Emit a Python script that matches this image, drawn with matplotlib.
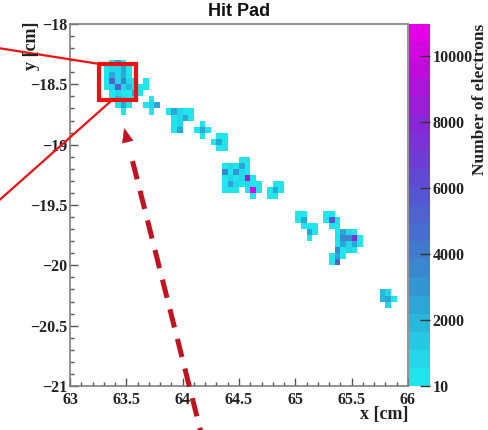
import numpy as np
import matplotlib
matplotlib.use("Agg")
import matplotlib.pyplot as plt
from matplotlib.colors import LinearSegmentedColormap, BoundaryNorm
from matplotlib.ticker import MultipleLocator
from matplotlib.patches import Rectangle, FancyArrowPatch

plt.rcParams['lines.scale_dashes'] = False

# ---------------- data: hit pads (pad centre in cm, number of electrons) -------------
hit_x = [
    # cluster near (63.45, -18.5)
    63.375, 63.425, 63.475,
    63.325, 63.375, 63.425, 63.475, 63.525,
    63.325, 63.375, 63.425, 63.475, 63.525,
    63.325, 63.375, 63.425, 63.475, 63.525, 63.575, 63.675,
    63.325, 63.375, 63.425, 63.475, 63.525, 63.575, 63.625, 63.675,
    63.375, 63.425, 63.475, 63.525, 63.575, 63.625,
    63.375, 63.425, 63.475, 63.525, 63.575, 63.725,
    63.425, 63.475, 63.525, 63.675, 63.725, 63.775,
    63.475, 63.725, 63.875, 63.925, 63.975, 64.025, 64.075,
    63.925, 63.975, 64.025, 64.075,
    63.925, 63.975, 64.175,
    63.925, 63.975, 64.125, 64.175, 64.225,
    64.175, 64.325, 64.375,
    64.275, 64.325, 64.375,
    64.325, 64.375,
    # cluster near (64.5, -19.3)
    64.525, 64.575,
    64.375, 64.425, 64.475, 64.525, 64.575,
    64.375, 64.425, 64.475, 64.525, 64.575,
    64.375, 64.425, 64.475, 64.525, 64.575, 64.625,
    64.375, 64.425, 64.475, 64.525, 64.575, 64.625, 64.675,
    64.375, 64.425, 64.475, 64.575, 64.625, 64.675,
    64.625,
    # cluster near (64.83, -19.38)
    64.825, 64.875,
    64.775, 64.825, 64.875,
    64.775, 64.825,
    # cluster near (65.1, -19.68)
    65.025, 65.075,
    65.025, 65.075,
    65.075, 65.125, 65.175,
    65.125, 65.175,
    65.125,
    # cluster near (65.45, -19.8)
    65.275, 65.325,
    65.275, 65.325, 65.375,
    65.325, 65.375,
    65.375, 65.425, 65.475, 65.525,
    65.375, 65.425, 65.475, 65.525, 65.575,
    65.375, 65.425, 65.475, 65.525, 65.575,
    65.375, 65.425, 65.475, 65.525,
    65.325, 65.375, 65.425,
    65.325, 65.375,
    # cluster near (65.82, -20.28)
    65.775, 65.825,
    65.775, 65.825, 65.875,
    65.825,
]
hit_y = [
    -18.325, -18.325, -18.325,
    -18.375, -18.375, -18.375, -18.375, -18.375,
    -18.425, -18.425, -18.425, -18.425, -18.425,
    -18.475, -18.475, -18.475, -18.475, -18.475, -18.475, -18.475,
    -18.525, -18.525, -18.525, -18.525, -18.525, -18.525, -18.525, -18.525,
    -18.575, -18.575, -18.575, -18.575, -18.575, -18.575,
    -18.625, -18.625, -18.625, -18.625, -18.625, -18.625,
    -18.675, -18.675, -18.675, -18.675, -18.675, -18.675,
    -18.725, -18.725, -18.725, -18.725, -18.725, -18.725, -18.725,
    -18.775, -18.775, -18.775, -18.775,
    -18.825, -18.825, -18.825,
    -18.875, -18.875, -18.875, -18.875, -18.875,
    -18.925, -18.925, -18.925,
    -18.975, -18.975, -18.975,
    -19.025, -19.025,
    -19.125, -19.125,
    -19.175, -19.175, -19.175, -19.175, -19.175,
    -19.225, -19.225, -19.225, -19.225, -19.225,
    -19.275, -19.275, -19.275, -19.275, -19.275, -19.275,
    -19.325, -19.325, -19.325, -19.325, -19.325, -19.325, -19.325,
    -19.375, -19.375, -19.375, -19.375, -19.375, -19.375,
    -19.425,
    -19.325, -19.325,
    -19.375, -19.375, -19.375,
    -19.425, -19.425,
    -19.575, -19.575,
    -19.625, -19.625,
    -19.675, -19.675, -19.675,
    -19.725, -19.725,
    -19.775,
    -19.575, -19.575,
    -19.625, -19.625, -19.625,
    -19.675, -19.675,
    -19.725, -19.725, -19.725, -19.725,
    -19.775, -19.775, -19.775, -19.775, -19.775,
    -19.825, -19.825, -19.825, -19.825, -19.825,
    -19.875, -19.875, -19.875, -19.875,
    -19.925, -19.925, -19.925,
    -19.975, -19.975,
    -20.225, -20.225,
    -20.275, -20.275, -20.275,
    -20.325,
]
hit_e = [
    500, 2300, 450,
    400, 700, 600, 2500, 450,
    450, 2400, 800, 2600, 500,
    400, 5200, 900, 3600, 600, 450, 400,
    450, 800, 5000, 700, 2200, 500, 400, 450,
    500, 600, 450, 500, 2300, 400,
    400, 2100, 600, 450, 500, 450,
    450, 2400, 500, 400, 600, 2700,
    400, 450, 500, 2500, 700, 450, 400,
    450, 600, 2600, 500,
    400, 700, 450,
    500, 2600, 400, 2500, 450,
    400, 450, 400,
    450, 2300, 500,
    400, 450,
    # B
    450, 500,
    500, 600, 450, 2600, 400,
    3300, 500, 3200, 600, 450,
    450, 700, 500, 600, 9000, 450,
    400, 2400, 600, 500, 700, 450, 400,
    450, 500, 400, 500, 10970, 450,
    400,
    # C
    450, 500,
    400, 2300, 450,
    500, 400,
    # D
    450, 500,
    400, 2400,
    450, 500, 400,
    2600, 450,
    400,
    # E
    450, 500,
    400, 5600, 450,
    500, 450,
    450, 2500, 600, 500,
    500, 3600, 3800, 7200, 450,
    450, 2400, 600, 2700, 400,
    3700, 500, 600, 450,
    450, 2600, 500,
    400, 5000,
    # F
    2200, 700,
    2000, 2300, 500,
    600,
]
cbar_ticks = [10, 2000, 4000, 6000, 8000, 10000]
z_min, z_max = 10, 10970

# ---------------- style ----------------
serif = ['Liberation Serif', 'DejaVu Serif']
sans = ['Liberation Sans', 'DejaVu Sans']
tick_fs = 11.5

cmap = LinearSegmentedColormap.from_list('rootcool', [
    (0.00, (0.12, 0.90, 0.93)),
    (0.10, (0.15, 0.79, 0.89)),
    (0.20, (0.17, 0.66, 0.84)),
    (0.35, (0.24, 0.49, 0.80)),
    (0.50, (0.32, 0.36, 0.82)),
    (0.60, (0.40, 0.27, 0.83)),
    (0.75, (0.55, 0.14, 0.84)),
    (0.90, (0.76, 0.04, 0.86)),
    (1.00, (0.89, 0.00, 0.90)),
])
levels = np.linspace(z_min, z_max, 21)
norm = BoundaryNorm(levels, cmap.N)

fig = plt.figure(figsize=(4.88, 4.30), dpi=100)
ax = fig.add_axes([70/488, 44/430, 338/488, 362/430])
cax = fig.add_axes([409/488, 44/430, 21/488, 362/430])

xedges = np.linspace(63, 66, 61)
yedges = np.linspace(-21, -18, 61)
H, _, _ = np.histogram2d(hit_x, hit_y, bins=[xedges, yedges], weights=hit_e)
Hm = np.ma.masked_where(H <= 0, H).T
mesh = ax.pcolormesh(xedges, yedges, Hm, cmap=cmap, norm=norm, zorder=1)

ax.set_xlim(63, 66)
ax.set_ylim(-21, -18)
ax.xaxis.set_major_locator(MultipleLocator(0.5))
ax.xaxis.set_minor_locator(MultipleLocator(0.1))
ax.yaxis.set_major_locator(MultipleLocator(0.5))
ax.yaxis.set_minor_locator(MultipleLocator(0.1))

def fmt(v, pos=None):
    s = ('%.1f' % v).rstrip('0').rstrip('.')
    return s.replace('-', '\u2212')
ax.xaxis.set_major_formatter(plt.FuncFormatter(fmt))
ax.yaxis.set_major_formatter(plt.FuncFormatter(fmt))

ax.tick_params(which='both', direction='in', top=False, right=False, color='#555555', width=1.0)
ax.tick_params(which='major', length=6)
ax.tick_params(which='minor', length=3)
ax.tick_params(axis='x', pad=4)
ax.tick_params(axis='y', pad=2)
for lab in ax.get_xticklabels() + ax.get_yticklabels():
    lab.set_fontfamily(serif)
    lab.set_fontweight('bold')
    lab.set_fontsize(tick_fs)
    lab.set_color('#222222')
for sp in ax.spines.values():
    sp.set_color('#808080')
    sp.set_linewidth(1.2)

cb = fig.colorbar(mesh, cax=cax, ticks=cbar_ticks)
cb.outline.set_visible(False)
cax.tick_params(direction='in', length=7, width=1.0, color='#333333', pad=2, right=True, left=False)
cax.minorticks_off()
cax.set_yticklabels([str(t) for t in cbar_ticks])
for lab in cax.get_yticklabels():
    lab.set_fontfamily(serif)
    lab.set_fontweight('bold')
    lab.set_fontsize(tick_fs)
    lab.set_color('#222222')

# texts
fig.text(239/488, 1 - 12/430, 'Hit Pad', ha='center', va='center',
         fontfamily=sans, fontweight='bold', fontsize=13, color='#111111')
fig.text(408/488, 1 - 406/430, 'x [cm]', ha='right', va='top',
         fontfamily=serif, fontweight='bold', fontsize=13, color='#222222')
fig.text(31/488, 1 - 22/430, 'y [cm]', ha='center', va='top', rotation=90,
         fontfamily=serif, fontweight='bold', fontsize=13, color='#222222')
fig.text(480/488, 1 - 24/430, 'Number of electrons', ha='center', va='top', rotation=90,
         fontfamily=serif, fontweight='bold', fontsize=12.5, color='#222222')

# ---------------- annotations (zoom box, guide lines, arrow) ----------------
red = '#ee1111'
ax.add_patch(Rectangle((63.258, -18.630), 0.330, 0.299, fill=False, ec=red, lw=3.0,
                       clip_on=False, zorder=6))
ax.plot([62.30, 63.258], [-18.190, -18.331], color=red, lw=1.6, clip_on=False,
        solid_capstyle='butt', zorder=6)
ax.plot([62.30, 63.374], [-19.52, -18.630], color=red, lw=1.6, clip_on=False,
        solid_capstyle='butt', zorder=6)

dark = '#c3121f'
tip = np.array([63.481, -18.862])
bot = np.array([64.180, -21.45])
start = tip + 0.106 * (bot - tip)
ax.plot([start[0], bot[0]], [start[1], bot[1]], color=dark, lw=3.6,
        ls=(0, (13.5, 8.5)), dash_capstyle='butt', clip_on=False, zorder=6)
head_base = tip + 0.045 * (bot - tip)
ax.add_patch(FancyArrowPatch(posA=tuple(head_base), posB=tuple(tip),
                             arrowstyle='-|>,head_length=0.95,head_width=0.38',
                             mutation_scale=10, color=dark, lw=0.5,
                             shrinkA=0, shrinkB=0, clip_on=False, zorder=6))

fig.savefig('out.png', dpi=100)
